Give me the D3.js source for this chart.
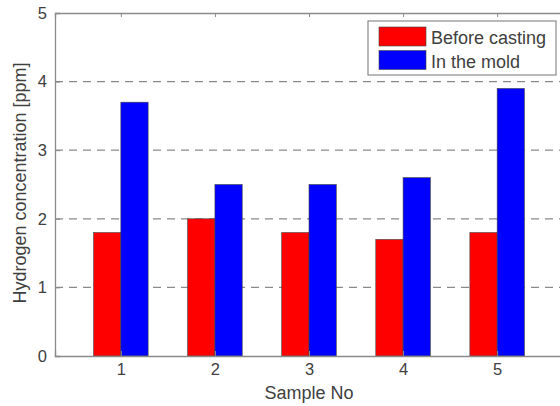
<!DOCTYPE html>
<html><head><meta charset="utf-8">
<script src="https://cdn.jsdelivr.net/npm/d3@7"></script>
<style>body{margin:0;background:#fff}svg{display:block}text{font-family:"Liberation Sans",Arial,sans-serif}</style>
</head><body><svg id="c" width="560" height="406"></svg>
<script>
const categories = [1, 2, 3, 4, 5];
const beforeCasting = [1.8, 2.0, 1.8, 1.7, 1.8];
const inTheMold = [3.7, 2.5, 2.5, 2.6, 3.9];
const yTicks = [0, 1, 2, 3, 4, 5];
const seriesNames = ["Before casting", "In the mold"];
const seriesColors = ["#ff0000", "#0000ff"];

const svg = d3.select("#c");
const L = 55, R = 563, T = 13, B = 356;
const x = d3.scaleLinear().domain([0.3, 5.7]).range([L, R]);
const y = d3.scaleLinear().domain([0, 5]).range([B, T]);
const axisCol = "#8a8a8a", textCol = "#404040";
const fs = 18;

// grid
svg.append("g").selectAll("line").data(yTicks.filter(d => d > 0 && d < 5)).join("line")
  .attr("x1", L).attr("x2", R).attr("y1", d => y(d)).attr("y2", d => y(d))
  .attr("stroke", "#8a8a8a").attr("stroke-width", 1.2).attr("stroke-dasharray", "8,6");

const bw = 0.29;
const series = [beforeCasting, inTheMold];
series.forEach((vals, si) => {
  svg.append("g").selectAll("rect").data(categories).join("rect")
    .attr("x", (c) => x(c - bw + si * bw))
    .attr("width", x(bw) - x(0))
    .attr("y", (c, i) => y(vals[i]))
    .attr("height", (c, i) => y(0) - y(vals[i]))
    .attr("fill", seriesColors[si]).attr("stroke", "#444").attr("stroke-width", 0.6);
});

// frame
const yAxis = d3.axisLeft(y).tickValues(yTicks).tickSize(-5).tickPadding(8).tickFormat(d3.format("d"));
const gy = svg.append("g").attr("transform", `translate(${L},0)`).call(yAxis);
const xAxis = d3.axisBottom(x).tickValues(categories).tickSize(-5).tickPadding(7).tickFormat(d3.format("d"));
const gx = svg.append("g").attr("transform", `translate(0,${B})`).call(xAxis);
const xTop = d3.axisTop(x).tickValues(categories).tickSize(-4).tickFormat("");
const gt = svg.append("g").attr("transform", `translate(0,${T})`).call(xTop);
[gy, gx, gt].forEach(g => {
  g.select(".domain").attr("stroke", axisCol).attr("stroke-width", 1.3);
  g.selectAll(".tick line").attr("stroke", axisCol);
  g.selectAll("text").attr("fill", textCol).attr("font-size", 16.5);
});
gx.select(".domain").raise();

svg.append("text").attr("x", (L + R) / 2).attr("y", 399).attr("text-anchor", "middle")
  .attr("font-size", fs).attr("fill", textCol).text("Sample No");
svg.append("text").attr("transform", `translate(26,183) rotate(-90)`)
  .attr("text-anchor", "middle").attr("font-size", fs).attr("fill", textCol)
  .text("Hydrogen concentration [ppm]");

// legend
const lg = svg.append("g");
lg.append("rect").attr("x", 368).attr("y", 21).attr("width", 188).attr("height", 54)
  .attr("fill", "#fff").attr("stroke", axisCol).attr("stroke-width", 1.2);
seriesNames.forEach((n, i) => {
  lg.append("rect").attr("x", 379).attr("y", 27 + i * 23.5).attr("width", 47).attr("height", 19)
    .attr("fill", seriesColors[i]).attr("stroke", "#444").attr("stroke-width", 0.6);
  lg.append("text").attr("x", 431).attr("y", 44 + i * 24).attr("font-size", fs)
    .attr("fill", textCol).text(n);
});
</script></body></html>
